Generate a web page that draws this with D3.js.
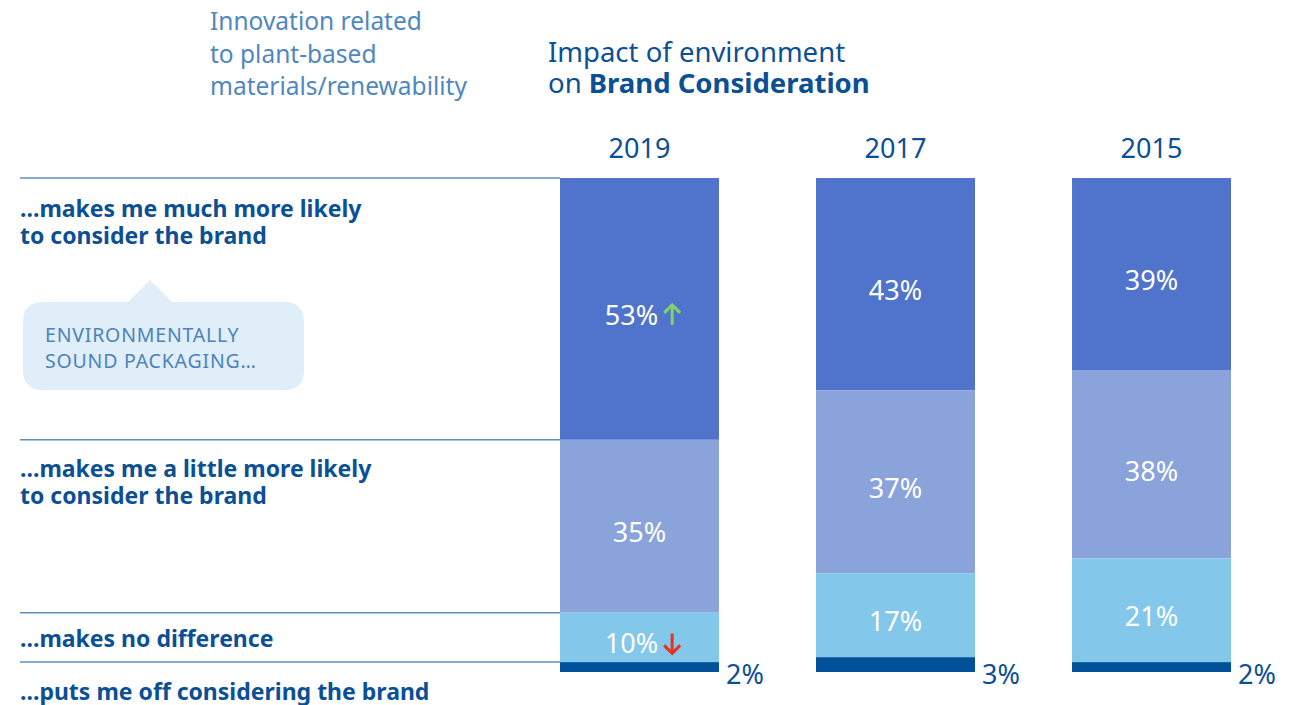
<!DOCTYPE html>
<html>
<head>
<meta charset="utf-8">
<script src="https://cdn.jsdelivr.net/npm/d3@7"></script>
<style>
  body { margin: 0; background: #fff; }
  svg text { font-family: "Noto Sans", Lato, sans-serif; }
</style>
</head>
<body>
<div id="chart"></div>
<script>
// data
const years = ["2019", "2017", "2015"];
const categories = [
  ["...makes me much more likely", "to consider the brand"],
  ["...makes me a little more likely", "to consider the brand"],
  ["...makes no difference"],
  ["...puts me off considering the brand"]
];
const muchMore = [53, 43, 39];
const littleMore = [35, 37, 38];
const noDifference = [10, 17, 21];
const putsOff = [2, 3, 2];
// change markers shown next to the 2019 labels
const trendMuchMore = ["up", null, null];
const trendNoDifference = ["down", null, null];

const segColors = ["#5074cb", "#8ba3db", "#83c8eb", "#00509a"];
const darkBlue = "#0b4f95";
const lightText = "#4f87c0";

const W = 1303, H = 705;
const svg = d3.select("#chart").append("svg").attr("width", W).attr("height", H);

const x = d3.scaleBand().domain(years).range([560, 1231]).paddingInner(0.379);
const y = d3.scaleLinear().domain([0, 100]).range([178, 672]);

// stack rows
const rows = years.map((yr, i) => ({
  year: yr,
  vals: [muchMore[i], littleMore[i], noDifference[i], putsOff[i]],
  trends: [trendMuchMore[i], null, trendNoDifference[i], null]
}));
rows.forEach(r => {
  let acc = 0;
  r.segs = r.vals.map((v, k) => {
    const s = { k: k, v: v, y0: acc, y1: acc + v, trend: r.trends[k], year: r.year };
    acc += v;
    return s;
  });
});

// headings
["Innovation related", "to plant-based", "materials/renewability"].forEach((t, i) => {
  svg.append("text").attr("x", 210).attr("y", 30 + i * 32.5)
    .attr("fill", lightText).style("font-size", "24.5px").text(t);
});

svg.append("text").attr("x", 548).attr("y", 62)
  .attr("fill", darkBlue).style("font-size", "27.5px")
  .text("Impact of environment");
const title2 = svg.append("text").attr("x", 548).attr("y", 93)
  .attr("fill", darkBlue).style("font-size", "27.5px");
title2.append("tspan").text("on ");
title2.append("tspan").style("font-weight", "bold").text("Brand Consideration");

// separator lines follow the 2019 bar
const lineYs = [0].concat(rows[0].segs.slice(0, 3).map(s => s.y1));
svg.selectAll("line.sep").data(lineYs).enter().append("line")
  .attr("class", "sep")
  .attr("x1", 20).attr("x2", x("2019"))
  .attr("y1", d => y(d)).attr("y2", d => y(d))
  .attr("stroke", "#5f8fc0").attr("stroke-width", 1.5);

// category labels
const catY = [217, 477, 647, 700];
categories.forEach((lines, i) => {
  lines.forEach((l, j) => {
    svg.append("text").attr("x", 20).attr("y", catY[i] + j * 27)
      .attr("fill", darkBlue)
      .style("font-size", "23px").style("font-weight", "bold")
      .text(l);
  });
});

// speech bubble
const bub = svg.append("g");
bub.append("path")
  .attr("d", "M23,322 Q23,302 43,302 L128,302 L150,280 L172,302 L284,302 Q304,302 304,322 L304,370 Q304,390 284,390 L43,390 Q23,390 23,370 Z")
  .attr("fill", "#dfeef8");
["ENVIRONMENTALLY", "SOUND PACKAGING\u2026"].forEach((t, i) => {
  bub.append("text").attr("x", 45).attr("y", 342 + i * 25.5)
    .attr("fill", "#4d82bb").style("font-size", "19.5px")
    .style("letter-spacing", "0.8px").text(t);
});

// years
svg.selectAll("text.year").data(years).enter().append("text")
  .attr("class", "year")
  .attr("x", d => x(d) + x.bandwidth() / 2).attr("y", 158)
  .attr("text-anchor", "middle").attr("fill", darkBlue)
  .style("font-size", "27px").text(d => d);

// bars
const bars = svg.selectAll("g.bar").data(rows).enter().append("g").attr("class", "bar");
bars.selectAll("rect").data(r => r.segs).enter().append("rect")
  .attr("x", d => x(d.year))
  .attr("width", x.bandwidth())
  .attr("y", d => y(d.y0))
  .attr("height", d => y(d.y1) - y(d.y0))
  .attr("fill", d => segColors[d.k]);

// labels inside segments
const inner = bars.selectAll("text.val").data(r => r.segs.filter(s => s.k < 3)).enter()
  .append("text").attr("class", "val")
  .attr("x", d => x(d.year) + x.bandwidth() / 2 - (d.trend ? 8 : 0))
  .attr("y", d => (y(d.y0) + y(d.y1)) / 2 + 16)
  .attr("text-anchor", "middle").attr("fill", "#fff")
  .style("font-size", "27px")
  .text(d => d.v + "%");

// trend arrows
inner.each(function(d) {
  if (!d.trend) return;
  const len = this.getComputedTextLength();
  const ax = x(d.year) + x.bandwidth() / 2 - 8 + len / 2 + 14;
  const cy = (y(d.y0) + y(d.y1)) / 2 + 6;
  const up = d.trend === "up";
  const top = cy - 10, bot = cy + 10;
  const p = up
    ? `M${ax},${bot} L${ax},${top + 1} M${ax - 8},${top + 8} L${ax},${top} L${ax + 8},${top + 8}`
    : `M${ax},${top} L${ax},${bot - 1} M${ax - 8},${bot - 8} L${ax},${bot} L${ax + 8},${bot - 8}`;
  svg.append("path").attr("d", p)
    .attr("fill", "none")
    .attr("stroke", up ? "#7dd36a" : "#e8321e")
    .attr("stroke-width", 3);
});

// outside labels for the last segment
bars.append("text")
  .attr("x", r => x(r.year) + x.bandwidth() + 7)
  .attr("y", 684)
  .attr("fill", darkBlue)
  .style("font-size", "27px")
  .text(r => r.segs[3].v + "%");
</script>
</body>
</html>
